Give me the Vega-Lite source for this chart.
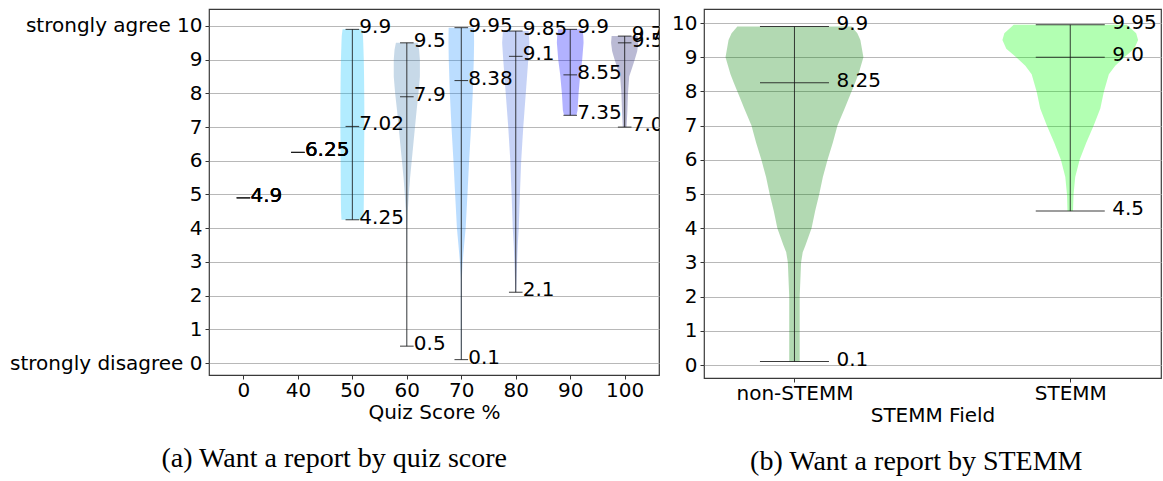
{
  "$schema": "https://vega.github.io/schema/vega-lite/v6.json",
  "background": "white",
  "padding": {"left": 8, "top": 8, "right": 0, "bottom": 0},
  "bounds": "flush",
  "spacing": 45,
  "resolve": {"scale": {"color": "independent"}},
  "config": {
    "view": {"stroke": "#3a3a3a", "strokeWidth": 1.2},
    "font": "DejaVu Sans",
    "axis": {
      "labelFont": "DejaVu Sans",
      "labelFontSize": 20,
      "labelColor": "#000000",
      "labelLimit": 400,
      "titleFont": "DejaVu Sans",
      "titleFontSize": 20,
      "titleFontWeight": "normal",
      "titleColor": "#000000",
      "domain": false,
      "tickColor": "#333333",
      "tickSize": 4,
      "labelPadding": 3
    },
    "axisY": {"grid": true, "gridColor": "#b8b8b8", "gridWidth": 1, "title": null},
    "axisX": {"grid": false, "titlePadding": 2, "labelPadding": 1, "labelAngle": 0},
    "title": {"font": "Liberation Serif", "fontSize": 28, "fontWeight": "normal", "color": "#000000"}
  },
  "datasets": {
    "quizViolins": [
      {"cat": "50", "idx": 3, "v": 4.25, "w": 0.2},
      {"cat": "50", "idx": 3, "v": 4.5, "w": 0.208},
      {"cat": "50", "idx": 3, "v": 5, "w": 0.212},
      {"cat": "50", "idx": 3, "v": 6, "w": 0.215},
      {"cat": "50", "idx": 3, "v": 7, "w": 0.22},
      {"cat": "50", "idx": 3, "v": 7.5, "w": 0.22},
      {"cat": "50", "idx": 3, "v": 8, "w": 0.218},
      {"cat": "50", "idx": 3, "v": 8.5, "w": 0.215},
      {"cat": "50", "idx": 3, "v": 9, "w": 0.21},
      {"cat": "50", "idx": 3, "v": 9.5, "w": 0.2},
      {"cat": "50", "idx": 3, "v": 9.7, "w": 0.195},
      {"cat": "50", "idx": 3, "v": 9.9, "w": 0.18},
      {"cat": "60", "idx": 4, "v": 0.5, "w": 0.003},
      {"cat": "60", "idx": 4, "v": 3, "w": 0.004},
      {"cat": "60", "idx": 4, "v": 4, "w": 0.008},
      {"cat": "60", "idx": 4, "v": 4.5, "w": 0.018},
      {"cat": "60", "idx": 4, "v": 5, "w": 0.037},
      {"cat": "60", "idx": 4, "v": 5.5, "w": 0.06},
      {"cat": "60", "idx": 4, "v": 6, "w": 0.09},
      {"cat": "60", "idx": 4, "v": 6.5, "w": 0.12},
      {"cat": "60", "idx": 4, "v": 7, "w": 0.15},
      {"cat": "60", "idx": 4, "v": 7.5, "w": 0.18},
      {"cat": "60", "idx": 4, "v": 8, "w": 0.214},
      {"cat": "60", "idx": 4, "v": 8.5, "w": 0.24},
      {"cat": "60", "idx": 4, "v": 9, "w": 0.24},
      {"cat": "60", "idx": 4, "v": 9.3, "w": 0.225},
      {"cat": "60", "idx": 4, "v": 9.5, "w": 0.2},
      {"cat": "70", "idx": 5, "v": 0.1, "w": 0.008},
      {"cat": "70", "idx": 5, "v": 2.5, "w": 0.01},
      {"cat": "70", "idx": 5, "v": 3, "w": 0.025},
      {"cat": "70", "idx": 5, "v": 3.5, "w": 0.052},
      {"cat": "70", "idx": 5, "v": 4, "w": 0.08},
      {"cat": "70", "idx": 5, "v": 5, "w": 0.113},
      {"cat": "70", "idx": 5, "v": 6, "w": 0.144},
      {"cat": "70", "idx": 5, "v": 7, "w": 0.18},
      {"cat": "70", "idx": 5, "v": 8, "w": 0.21},
      {"cat": "70", "idx": 5, "v": 9, "w": 0.23},
      {"cat": "70", "idx": 5, "v": 9.5, "w": 0.235},
      {"cat": "70", "idx": 5, "v": 9.95, "w": 0.232},
      {"cat": "80", "idx": 6, "v": 2.1, "w": 0.008},
      {"cat": "80", "idx": 6, "v": 2.5, "w": 0.015},
      {"cat": "80", "idx": 6, "v": 3, "w": 0.025},
      {"cat": "80", "idx": 6, "v": 3.5, "w": 0.037},
      {"cat": "80", "idx": 6, "v": 4, "w": 0.055},
      {"cat": "80", "idx": 6, "v": 5, "w": 0.076},
      {"cat": "80", "idx": 6, "v": 6, "w": 0.1},
      {"cat": "80", "idx": 6, "v": 7, "w": 0.138},
      {"cat": "80", "idx": 6, "v": 8, "w": 0.184},
      {"cat": "80", "idx": 6, "v": 9, "w": 0.23},
      {"cat": "80", "idx": 6, "v": 9.5, "w": 0.25},
      {"cat": "80", "idx": 6, "v": 9.85, "w": 0.236},
      {"cat": "90", "idx": 7, "v": 7.35, "w": 0.11},
      {"cat": "90", "idx": 7, "v": 7.4, "w": 0.122},
      {"cat": "90", "idx": 7, "v": 7.5, "w": 0.135},
      {"cat": "90", "idx": 7, "v": 8, "w": 0.153},
      {"cat": "90", "idx": 7, "v": 8.55, "w": 0.184},
      {"cat": "90", "idx": 7, "v": 9, "w": 0.22},
      {"cat": "90", "idx": 7, "v": 9.5, "w": 0.245},
      {"cat": "90", "idx": 7, "v": 9.7, "w": 0.24},
      {"cat": "90", "idx": 7, "v": 9.9, "w": 0.225},
      {"cat": "100", "idx": 8, "v": 7, "w": 0.035},
      {"cat": "100", "idx": 8, "v": 7.5, "w": 0.05},
      {"cat": "100", "idx": 8, "v": 8, "w": 0.06},
      {"cat": "100", "idx": 8, "v": 8.5, "w": 0.083},
      {"cat": "100", "idx": 8, "v": 8.75, "w": 0.135},
      {"cat": "100", "idx": 8, "v": 9, "w": 0.184},
      {"cat": "100", "idx": 8, "v": 9.25, "w": 0.23},
      {"cat": "100", "idx": 8, "v": 9.5, "w": 0.25},
      {"cat": "100", "idx": 8, "v": 9.7, "w": 0.24}
    ],
    "quizStats": [
      {"cat": "0", "idx": 1, "min": 4.9, "center": 4.9, "max": 4.9},
      {"cat": "40", "idx": 2, "min": 6.25, "center": 6.25, "max": 6.25},
      {"cat": "50", "idx": 3, "min": 4.25, "center": 7.02, "max": 9.9},
      {"cat": "60", "idx": 4, "min": 0.5, "center": 7.9, "max": 9.5},
      {"cat": "70", "idx": 5, "min": 0.1, "center": 8.38, "max": 9.95},
      {"cat": "80", "idx": 6, "min": 2.1, "center": 9.1, "max": 9.85},
      {"cat": "90", "idx": 7, "min": 7.35, "center": 8.55, "max": 9.9},
      {"cat": "100", "idx": 8, "min": 7.0, "center": 9.5, "max": 9.7}
    ],
    "fieldViolins": [
      {"cat": "non-STEMM", "idx": 1, "v": 0.1, "w": 0.019},
      {"cat": "non-STEMM", "idx": 1, "v": 1, "w": 0.019},
      {"cat": "non-STEMM", "idx": 1, "v": 2, "w": 0.019},
      {"cat": "non-STEMM", "idx": 1, "v": 3, "w": 0.024},
      {"cat": "non-STEMM", "idx": 1, "v": 3.3, "w": 0.03},
      {"cat": "non-STEMM", "idx": 1, "v": 3.5, "w": 0.04},
      {"cat": "non-STEMM", "idx": 1, "v": 4, "w": 0.062},
      {"cat": "non-STEMM", "idx": 1, "v": 4.5, "w": 0.075},
      {"cat": "non-STEMM", "idx": 1, "v": 5, "w": 0.09},
      {"cat": "non-STEMM", "idx": 1, "v": 5.5, "w": 0.103},
      {"cat": "non-STEMM", "idx": 1, "v": 6, "w": 0.12},
      {"cat": "non-STEMM", "idx": 1, "v": 6.5, "w": 0.139},
      {"cat": "non-STEMM", "idx": 1, "v": 7, "w": 0.156},
      {"cat": "non-STEMM", "idx": 1, "v": 7.5, "w": 0.182},
      {"cat": "non-STEMM", "idx": 1, "v": 8, "w": 0.207},
      {"cat": "non-STEMM", "idx": 1, "v": 8.25, "w": 0.22},
      {"cat": "non-STEMM", "idx": 1, "v": 8.5, "w": 0.232},
      {"cat": "non-STEMM", "idx": 1, "v": 9, "w": 0.25},
      {"cat": "non-STEMM", "idx": 1, "v": 9.5, "w": 0.239},
      {"cat": "non-STEMM", "idx": 1, "v": 9.7, "w": 0.228},
      {"cat": "non-STEMM", "idx": 1, "v": 9.9, "w": 0.207},
      {"cat": "STEMM", "idx": 2, "v": 4.5, "w": 0.01},
      {"cat": "STEMM", "idx": 2, "v": 5, "w": 0.012},
      {"cat": "STEMM", "idx": 2, "v": 5.5, "w": 0.018},
      {"cat": "STEMM", "idx": 2, "v": 6, "w": 0.034},
      {"cat": "STEMM", "idx": 2, "v": 6.5, "w": 0.058},
      {"cat": "STEMM", "idx": 2, "v": 7, "w": 0.085},
      {"cat": "STEMM", "idx": 2, "v": 7.5, "w": 0.109},
      {"cat": "STEMM", "idx": 2, "v": 8, "w": 0.122},
      {"cat": "STEMM", "idx": 2, "v": 8.5, "w": 0.14},
      {"cat": "STEMM", "idx": 2, "v": 8.75, "w": 0.163},
      {"cat": "STEMM", "idx": 2, "v": 9, "w": 0.196},
      {"cat": "STEMM", "idx": 2, "v": 9.25, "w": 0.232},
      {"cat": "STEMM", "idx": 2, "v": 9.5, "w": 0.246},
      {"cat": "STEMM", "idx": 2, "v": 9.7, "w": 0.239},
      {"cat": "STEMM", "idx": 2, "v": 9.95, "w": 0.205}
    ],
    "fieldStats": [
      {"cat": "non-STEMM", "idx": 1, "min": 0.1, "center": 8.25, "max": 9.9},
      {"cat": "STEMM", "idx": 2, "min": 4.5, "center": 9.0, "max": 9.95}
    ]
  },
  "hconcat": [
    {
      "width": 450,
      "height": 366,
      "title": {"text": "(a) Want a report by quiz score", "orient": "bottom", "frame": "bounds", "anchor": "middle", "offset": 23},
      "encoding": {
        "y": {"type": "quantitative", "scale": {"domain": [-0.356, 10.504], "nice": false, "zero": false},
              "axis": {"values": [0, 1, 2, 3, 4, 5, 6, 7, 8, 9, 10],
                       "labelExpr": "datum.value === 10 ? 'strongly agree 10' : datum.value === 0 ? 'strongly disagree 0' : datum.label"}},
        "x": {"type": "quantitative", "scale": {"domain": [0.368, 8.63], "nice": false, "zero": false},
              "title": "Quiz Score %",
              "axis": {"values": [1, 2, 3, 4, 5, 6, 7, 8],
                       "labelExpr": "['0','40','50','60','70','80','90','100'][datum.value - 1]"}}
      },
      "layer": [
        {
          "data": {"name": "quizViolins"},
          "transform": [
            {"calculate": "datum.idx - datum.w", "as": "lo"},
            {"calculate": "datum.idx + datum.w", "as": "hi"}
          ],
          "mark": {"type": "area", "orient": "horizontal", "fillOpacity": 0.3},
          "encoding": {
            "y": {"field": "v"},
            "x": {"field": "lo"},
            "x2": {"field": "hi"},
            "color": {"field": "cat", "type": "nominal", "legend": null,
                      "scale": {"domain": ["50", "60", "70", "80", "90", "100"],
                                "range": ["#00bfff", "#4682b4", "#1e90ff", "#4169e1", "#0000ff", "#191970"]}}
          }
        },
        {
          "data": {"name": "quizStats"},
          "mark": {"type": "rule", "color": "#1a1a1a", "strokeWidth": 1, "opacity": 0.85},
          "encoding": {
            "x": {"field": "idx"},
            "y": {"field": "min"},
            "y2": {"field": "max"}
          }
        },
        {
          "data": {"name": "quizStats"},
          "transform": [{"fold": ["min", "center", "max"], "as": ["stat", "value"]}],
          "mark": {"type": "tick", "orient": "horizontal", "size": 13.6, "thickness": 1, "color": "#1a1a1a", "opacity": 0.85},
          "encoding": {
            "x": {"field": "idx"},
            "y": {"field": "value"}
          }
        },
        {
          "data": {"name": "quizStats"},
          "transform": [
            {"fold": ["min", "center", "max"], "as": ["stat", "value"]},
            {"calculate": "datum.value == floor(datum.value) ? format(datum.value, '.1f') : format(datum.value, '.2~f')", "as": "label"}
          ],
          "mark": {"type": "text", "align": "left", "baseline": "middle", "dx": 7, "dy": -2, "fontSize": 20, "font": "DejaVu Sans", "color": "#000000", "clip": true},
          "encoding": {
            "x": {"field": "idx"},
            "y": {"field": "value"},
            "text": {"field": "label"}
          }
        }
      ]
    },
    {
      "width": 457,
      "height": 369,
      "title": {"text": "(b) Want a report by STEMM", "orient": "bottom", "frame": "bounds", "anchor": "middle", "offset": 23},
      "encoding": {
        "y": {"type": "quantitative", "scale": {"domain": [-0.38, 10.41], "nice": false, "zero": false},
              "axis": {"values": [0, 1, 2, 3, 4, 5, 6, 7, 8, 9, 10]}},
        "x": {"type": "quantitative", "scale": {"domain": [0.672, 2.329], "nice": false, "zero": false},
              "title": "STEMM Field",
              "axis": {"values": [1, 2], "labelExpr": "['non-STEMM','STEMM'][datum.value - 1]"}}
      },
      "layer": [
        {
          "data": {"name": "fieldViolins"},
          "transform": [
            {"calculate": "datum.idx - datum.w", "as": "lo"},
            {"calculate": "datum.idx + datum.w", "as": "hi"}
          ],
          "mark": {"type": "area", "orient": "horizontal", "fillOpacity": 0.3},
          "encoding": {
            "y": {"field": "v"},
            "x": {"field": "lo"},
            "x2": {"field": "hi"},
            "color": {"field": "cat", "type": "nominal", "legend": null,
                      "scale": {"domain": ["non-STEMM", "STEMM"], "range": ["#008000", "#00ff00"]}}
          }
        },
        {
          "data": {"name": "fieldStats"},
          "mark": {"type": "rule", "color": "#1a1a1a", "strokeWidth": 1, "opacity": 0.85},
          "encoding": {
            "x": {"field": "idx"},
            "y": {"field": "min"},
            "y2": {"field": "max"}
          }
        },
        {
          "data": {"name": "fieldStats"},
          "transform": [{"fold": ["min", "center", "max"], "as": ["stat", "value"]}],
          "mark": {"type": "tick", "orient": "horizontal", "size": 69, "thickness": 1, "color": "#1a1a1a", "opacity": 0.85},
          "encoding": {
            "x": {"field": "idx"},
            "y": {"field": "value"}
          }
        },
        {
          "data": {"name": "fieldStats"},
          "transform": [
            {"fold": ["min", "center", "max"], "as": ["stat", "value"]},
            {"calculate": "datum.value == floor(datum.value) ? format(datum.value, '.1f') : format(datum.value, '.2~f')", "as": "label"}
          ],
          "mark": {"type": "text", "align": "left", "baseline": "middle", "dx": 42, "dy": -2, "fontSize": 20, "font": "DejaVu Sans", "color": "#000000", "clip": true},
          "encoding": {
            "x": {"field": "idx"},
            "y": {"field": "value"},
            "text": {"field": "label"}
          }
        }
      ]
    }
  ]
}
